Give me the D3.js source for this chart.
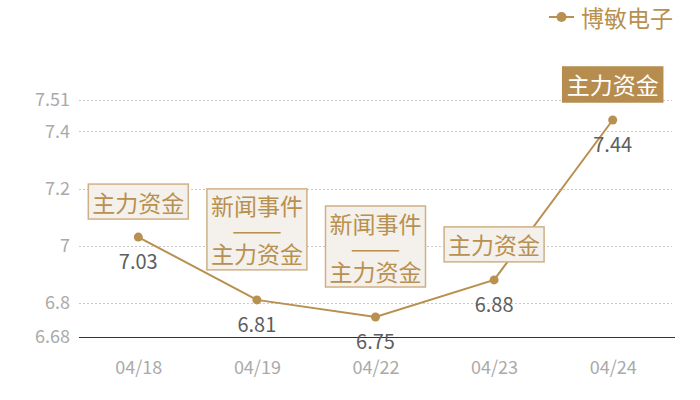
<!DOCTYPE html>
<html><head><meta charset="utf-8">
<script src="https://cdn.jsdelivr.net/npm/d3@7"></script>
<style>body{margin:0;background:#fff}svg{display:block}</style>
</head><body>
<svg id="c" width="700" height="400"></svg>
<script>
const categories = ["04/18","04/19","04/22","04/23","04/24"];
const values = [7.03, 6.81, 6.75, 6.88, 7.44];
const yTicks = [6.68, 6.8, 7, 7.2, 7.4, 7.51];
const annotations = [["主力资金"], ["新闻事件","——","主力资金"], ["新闻事件","——","主力资金"], ["主力资金"], ["主力资金"]];
const highlighted = [false, false, false, false, true];
const seriesName = "博敏电子";

const font = "'Noto Sans CJK SC','Noto Sans',sans-serif";
const gold = "#b8904f";
const svg = d3.select("#c");
const x = d3.scalePoint().domain(categories).range([79, 672]).padding(0.5);
const y = d3.scaleLinear().domain([6.68, 7.51]).range([337, 100]);

// gridlines
svg.append("g").selectAll("line").data(yTicks.filter(t => t !== 6.68)).join("line")
  .attr("x1", 79).attr("x2", 672)
  .attr("y1", d => Math.round(y(d)) + 0.5).attr("y2", d => Math.round(y(d)) + 0.5)
  .attr("stroke", "#c8c8c8").attr("stroke-dasharray", "2,2").attr("stroke-width", 1);

// y axis labels
const yAxis = svg.append("g").attr("transform", "translate(70,0)")
  .call(d3.axisLeft(y).tickValues(yTicks).tickSize(0).tickPadding(0).tickFormat(d => String(d)));
yAxis.select(".domain").remove();
yAxis.selectAll("text").attr("fill", "#aaaaaa").style("font-family", font).style("font-size", "18px");

// x axis
const xAxis = svg.append("g").attr("transform", "translate(0,337.5)")
  .call(d3.axisBottom(x).tickSize(0).tickPadding(24));
xAxis.select(".domain").attr("stroke", "#333").attr("stroke-width", 1).attr("d", "M79,0H675");
xAxis.selectAll("text").attr("fill", "#aaaaaa").style("font-family", font).style("font-size", "18px");

// line
const pts = categories.map((c, i) => [x(c), y(values[i])]);
svg.append("path").attr("d", d3.line()(pts)).attr("fill", "none").attr("stroke", gold).attr("stroke-width", 2);
svg.append("g").selectAll("circle").data(pts).join("circle")
  .attr("cx", d => d[0]).attr("cy", d => d[1]).attr("r", 4.5).attr("fill", gold);

// value labels
svg.append("g").selectAll("text").data(values).join("text")
  .attr("x", (d, i) => x(categories[i])).attr("y", d => y(d) + 32)
  .attr("text-anchor", "middle").attr("fill", "#5e5e5e").style("font-family", font).style("font-size", "20px")
  .text(d => d.toFixed(2));

// annotations
categories.forEach((c, i) => {
  const lines = annotations[i];
  const h = lines.length === 1 ? 35 : 81;
  const gap = lines.length === 1 ? 18 : 30;
  const bottom = y(values[i]) - gap;
  const top = bottom - h;
  const cx = x(c);
  const hl = highlighted[i];
  svg.append("rect").attr("x", cx - 50).attr("y", top).attr("width", 100).attr("height", h)
    .attr("fill", hl ? "#b68d4e" : "#f4f0eb").attr("stroke", hl ? "#b68d4e" : "#cfb086").attr("stroke-width", 1.5);
  const step = 24;
  const mid = top + h / 2;
  const txt = svg.append("text").attr("text-anchor", "middle").attr("dominant-baseline", "central")
    .attr("fill", hl ? "#fff" : gold).style("font-family", font).style("font-size", "23px");
  lines.forEach((t, k) => {
    const ts = txt.append("tspan").attr("x", cx).attr("y", mid + (k - (lines.length - 1) / 2) * step).text(t);
    if (t === "——") ts.attr("textLength", 50).attr("lengthAdjust", "spacingAndGlyphs");
  });
});

// legend
const lg = svg.append("g");
lg.append("line").attr("x1", 549).attr("x2", 574).attr("y1", 17).attr("y2", 17).attr("stroke", gold).attr("stroke-width", 2);
lg.append("circle").attr("cx", 561.5).attr("cy", 17).attr("r", 5).attr("fill", gold);
lg.append("text").attr("x", 581).attr("y", 17).attr("dominant-baseline", "central")
  .attr("fill", gold).style("font-family", font).style("font-size", "23px").text(seriesName);
</script>
</body></html>
